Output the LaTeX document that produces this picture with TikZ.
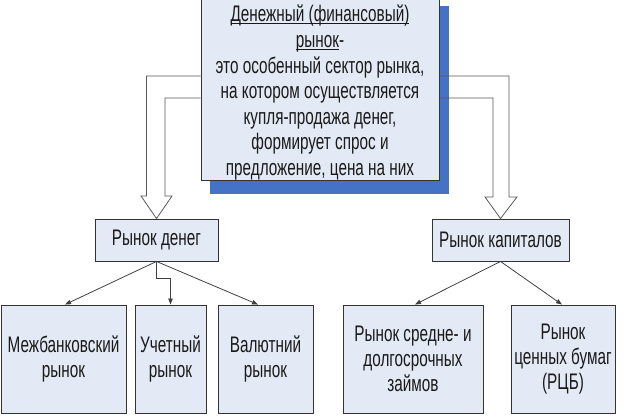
\documentclass[tikz,border=0pt]{standalone}
\usepackage{fontspec}
\setmainfont{Liberation Sans}[FakeStretch=0.68]
\usetikzlibrary{arrows.meta,calc}
\newsavebox{\myulbox}
\newcommand{\myul}[1]{\sbox{\myulbox}{#1}\rlap{\rule[-2.2pt]{\wd\myulbox}{0.9pt}}\usebox{\myulbox}}
\pgfdeclarelayer{shadowlayer}
\pgfdeclarelayer{background}
\pgfsetlayers{shadowlayer,background,main}
\definecolor{boxfill}{HTML}{E4EAF5}
\definecolor{shadowblue}{HTML}{4472C4}
\definecolor{txt}{HTML}{1A1A1A}
\begin{document}
\begin{tikzpicture}[x=1pt,y=-1pt,
  box/.style={draw=black!80, line width=0.9pt, fill=boxfill, inner sep=0pt,
    align=center, text=txt, font=\fontsize{22.5}{25}\selectfont},
  conn/.style={draw=black!75, line width=0.8pt, -{Triangle[length=6pt,width=4.5pt]}},
  bigarrow/.style={draw=black!65, line width=0.8pt}]
\useasboundingbox (0,0) rectangle (624,418);

\node[box, minimum width=238pt, minimum height=173pt,
  font=\fontsize{22.5}{25.6}\selectfont] (fin) at (320,86.5)
  {\rule{0pt}{29pt}\myul{Денежный (финансовый)}\\
   \myul{рынок}-\\
   это особенный сектор рынка,\\
   на котором осуществляется\\
   купля-продажа денег,\\
   формирует спрос и\\
   предложение, цена на них};

\node[box, minimum width=123pt, minimum height=42pt] (md) at (156.5,240) {Рынок денег};
\node[box, minimum width=137pt, minimum height=42pt] (mk) at (500.5,240) {Рынок капиталов};

\node[box, minimum width=125pt, minimum height=108pt] (mb) at (63.5,359) {Межбанковский\\рынок};
\node[box, minimum width=71pt, minimum height=108pt] (uch) at (170.5,359) {Учетный\\рынок};
\node[box, minimum width=95pt, minimum height=108pt] (val) at (265.5,359) {Валютний\\рынок};
\node[box, minimum width=140pt, minimum height=108pt] (sd) at (413,359) {Рынок средне- и\\долгосрочных\\займов};
\node[box, minimum width=104pt, minimum height=108pt] (rcb) at (563,359) {Рынок\\ценных бумаг\\(РЦБ)};

\coordinate (la) at (0,76);
\coordinate (lb) at (0,98);

\begin{pgfonlayer}{shadowlayer}
  \fill[shadowblue] ($(fin.north west)+(9,14)$) rectangle ($(fin.south east)+(10,13)$);
\end{pgfonlayer}
\begin{pgfonlayer}{background}
  \draw[bigarrow] (fin.west |- la) -- (146.5,76) -- (146.5,196) -- (141,196)
     -- (md.north) -- (172,196) -- (165,196) -- (165,98) -- (fin.west |- lb);
  \draw[bigarrow] (fin.east |- la) -- (509,76) -- (509,197) -- (517,197)
     -- (mk.north) -- (485,197) -- (493,197) -- (493,98) -- (fin.east |- lb);
\end{pgfonlayer}

\draw[conn] (md.south) -- ($(mb.north)+(1.5,0)$);
\draw[conn] (md.south) -- ($(md.south)+(0,17)$) -| (uch.north);
\draw[conn] (md.south) -- ($(val.north)+(-7.5,0)$);
\draw[conn] (mk.south) -- ($(sd.north)+(2,0)$);
\draw[conn] (mk.south) -- ($(rcb.north)+(-1,0)$);
\end{tikzpicture}
\end{document}
